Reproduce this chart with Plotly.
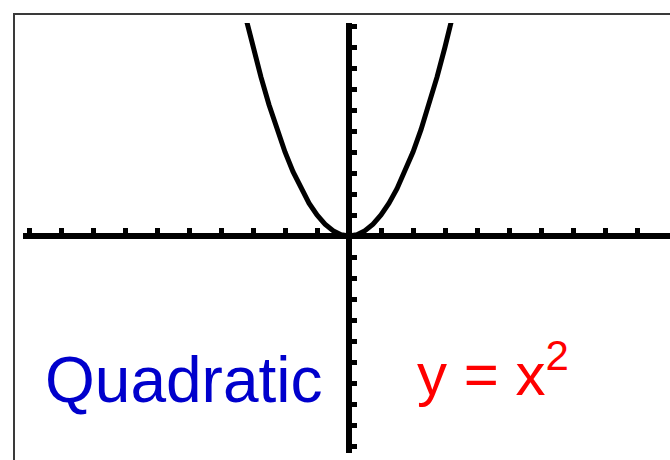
import plotly.graph_objects as go

# Parabola y = x^2
curve_x = [-3.2, -3.0, -2.75, -2.5, -2.25, -2.0, -1.75, -1.5, -1.25, -1.0, -0.75, -0.5, -0.25, 0.0,
           0.25, 0.5, 0.75, 1.0, 1.25, 1.5, 1.75, 2.0, 2.25, 2.5, 2.75, 3.0, 3.2]
curve_y = [10.24, 9.0, 7.5625, 6.25, 5.0625, 4.0, 3.0625, 2.25, 1.5625, 1.0, 0.5625, 0.25, 0.0625, 0.0,
           0.0625, 0.25, 0.5625, 1.0, 1.5625, 2.25, 3.0625, 4.0, 5.0625, 6.25, 7.5625, 9.0, 10.24]

x_ticks = [-10, -9, -8, -7, -6, -5, -4, -3, -2, -1, 0, 1, 2, 3, 4, 5, 6, 7, 8, 9, 10]
y_ticks = [-10, -9, -8, -7, -6, -5, -4, -3, -2, -1, 0, 1, 2, 3, 4, 5, 6, 7, 8, 9, 10]

label_left = "Quadratic"
label_right = "y = x<sup>2</sup>"

W, H = 670, 460
# pixel geometry
x0_px = 349.0   # y-axis position
y0_px = 236.0   # x-axis position (from top)
ux = 32.0       # px per x unit
uy = 21.0       # px per y unit

xl_px, xr_px = 23.0, 670.0
yt_px, yb_px = 23.0, 453.0

x_range = [(xl_px - x0_px) / ux, (xr_px - x0_px) / ux]
y_range = [(y0_px - yb_px) / uy, (y0_px - yt_px) / uy]

fig = go.Figure()
fig.add_trace(go.Scatter(x=curve_x, y=curve_y, mode="lines",
                         line=dict(color="black", width=5), hoverinfo="skip",
                         showlegend=False, cliponaxis=False))

fig.update_layout(
    width=W, height=H,
    margin=dict(l=0, r=0, t=0, b=0),
    paper_bgcolor="white", plot_bgcolor="white",
    showlegend=False,
    xaxis=dict(range=x_range, domain=[xl_px / W, xr_px / W],
               anchor="free", position=(H - y0_px) / H,
               showline=True, linecolor="black", linewidth=6,
               ticks="inside", tickvals=x_ticks, ticklen=5, tickwidth=5, tickcolor="black",
               showticklabels=False, showgrid=False, zeroline=False, fixedrange=True),
    yaxis=dict(range=y_range, domain=[(H - yb_px) / H, (H - yt_px) / H],
               anchor="free", position=x0_px / W,
               showline=True, linecolor="black", linewidth=6,
               ticks="inside", tickvals=y_ticks, ticklen=5, tickwidth=5, tickcolor="black",
               showticklabels=False, showgrid=False, zeroline=False, fixedrange=True),
    shapes=[dict(type="rect", xref="paper", yref="paper",
                 x0=14 / W, x1=1.05, y0=-0.05, y1=(H - 14) / H,
                 line=dict(color="#3a3a3a", width=2), fillcolor="rgba(0,0,0,0)", layer="below")],
    annotations=[
        dict(text=label_left, xref="paper", yref="paper", x=43 / W, y=(H - 418) / H,
             xanchor="left", yanchor="bottom", showarrow=False,
             font=dict(family="Liberation Sans, Arial", size=64, color="#0000CC")),
        dict(text=label_right, xref="paper", yref="paper", x=415 / W, y=(H - 410) / H,
             xanchor="left", yanchor="bottom", showarrow=False,
             font=dict(family="Liberation Sans, Arial", size=60, color="#FF0000")),
    ],
)

fig.write_html("out.html", config={"displayModeBar": False},
               post_script="document.body.style.margin='0';document.body.style.overflow='hidden';")
